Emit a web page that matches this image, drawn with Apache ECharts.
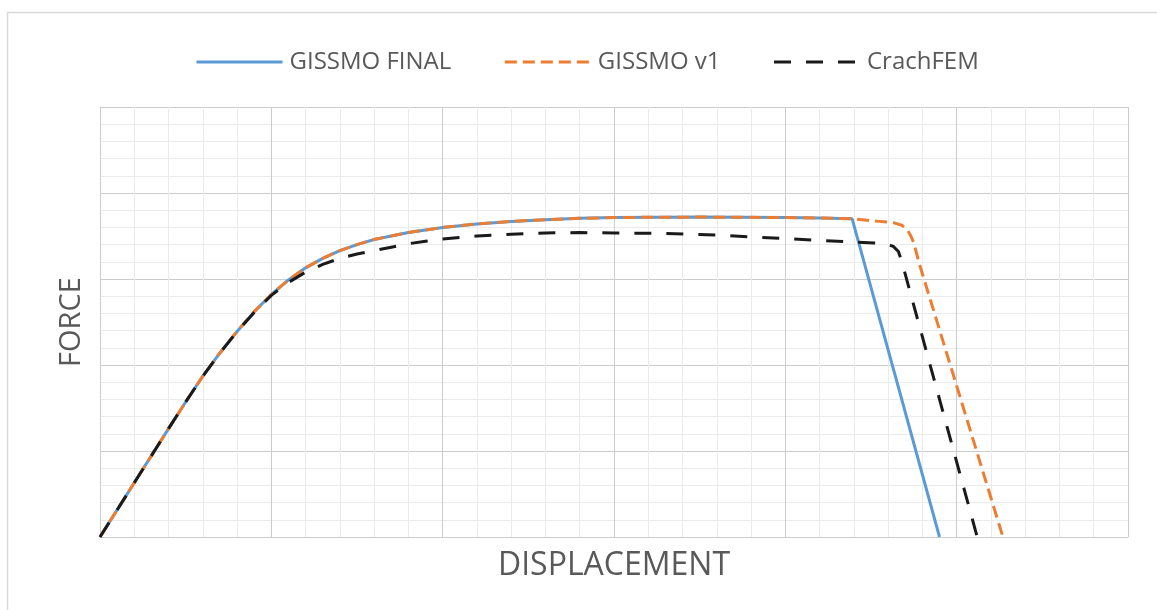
<!DOCTYPE html>
<html>
<head>
<meta charset="utf-8">
<title>Force vs displacement</title>
<script src="https://cdn.jsdelivr.net/npm/echarts@6/dist/echarts.min.js"></script>
<style>
  html, body { margin: 0; padding: 0; background: #ffffff; }
  #chart { width: 1157px; height: 610px; }
</style>
</head>
<body>
<div id="chart"></div>
<script>
// Series names shown in the legend
const seriesNames = ['GISSMO FINAL', 'GISSMO v1', 'CrachFEM'];

// Axis titles
const xAxisTitle = 'DISPLACEMENT';
const yAxisTitle = 'FORCE';

// Axis ranges (unlabelled, gridlines only)
const xRange = [0, 6];
const yRange = [0, 5];

// [displacement, force] pairs
const gissmoFinal = [
  [0, 0], [0.2, 0.63], [0.4, 1.26], [0.5, 1.57], [0.6, 1.87], [0.7, 2.14],
  [0.8, 2.39], [0.9, 2.62], [1.0, 2.82], [1.1, 2.99], [1.2, 3.13],
  [1.3, 3.24], [1.4, 3.33], [1.5, 3.40], [1.6, 3.46], [1.7, 3.50],
  [1.8, 3.54], [1.9, 3.57], [2.0, 3.60], [2.2, 3.64], [2.4, 3.67],
  [2.6, 3.69], [2.8, 3.705], [3.0, 3.715], [3.5, 3.72], [4.0, 3.715],
  [4.2, 3.71], [4.39, 3.70], [4.90, 0]
];

const gissmoV1 = [
  [0, 0], [0.2, 0.63], [0.4, 1.26], [0.5, 1.57], [0.6, 1.87], [0.7, 2.14],
  [0.8, 2.39], [0.9, 2.62], [1.0, 2.82], [1.1, 2.99], [1.2, 3.13],
  [1.3, 3.24], [1.4, 3.33], [1.5, 3.40], [1.6, 3.46], [1.7, 3.50],
  [1.8, 3.54], [1.9, 3.57], [2.0, 3.60], [2.2, 3.64], [2.4, 3.67],
  [2.6, 3.69], [2.8, 3.705], [3.0, 3.715], [3.5, 3.72], [4.0, 3.715],
  [4.2, 3.71], [4.39, 3.70], [4.55, 3.67], [4.63, 3.655], [4.68, 3.625],
  [4.71, 3.58], [4.73, 3.51], [4.75, 3.42], [4.78, 3.19], [5.27, 0]
];

const crachFEM = [
  [0, 0], [0.2, 0.63], [0.4, 1.26], [0.5, 1.57], [0.6, 1.87], [0.7, 2.14],
  [0.8, 2.39], [0.9, 2.61], [1.0, 2.81], [1.1, 2.96], [1.2, 3.08],
  [1.3, 3.17], [1.4, 3.24], [1.5, 3.29], [1.6, 3.33], [1.7, 3.37],
  [1.8, 3.41], [1.9, 3.44], [2.0, 3.465], [2.2, 3.50], [2.4, 3.52],
  [2.6, 3.535], [2.8, 3.54], [3.0, 3.535], [3.3, 3.53], [3.6, 3.51],
  [3.8, 3.49], [4.0, 3.47], [4.2, 3.45], [4.4, 3.43], [4.52, 3.42],
  [4.59, 3.405], [4.63, 3.38], [4.66, 3.32], [4.68, 3.2], [5.12, 0]
];

const textColor = '#595959';
const majorGrid = '#cccccc';
const minorGrid = '#ebebeb';
const fontFamily = '"Open Sans", "Liberation Sans", sans-serif';

function valueAxis(range, title, extra) {
  return Object.assign({
    type: 'value',
    min: range[0],
    max: range[1],
    interval: 1,
    name: title,
    nameLocation: 'middle',
    nameTextStyle: { color: textColor, fontSize: 29, fontFamily: fontFamily },
    axisLabel: { show: false },
    axisTick: { show: false },
    axisLine: { show: true, lineStyle: { color: majorGrid, width: 1 } },
    splitLine: { show: true, lineStyle: { color: majorGrid, width: 1 } },
    minorTick: { show: false, splitNumber: 5 },
    minorSplitLine: { show: true, lineStyle: { color: minorGrid, width: 1 } }
  }, extra);
}

const chart = echarts.init(document.getElementById('chart'), null, { renderer: 'canvas' });

chart.setOption({
  backgroundColor: '#ffffff',
  animation: false,
  graphic: [{
    type: 'rect',
    z: -10,
    silent: true,
    shape: { x: 7.5, y: 12.5, width: 1170, height: 620 },
    style: { fill: 'none', stroke: '#d9d9d9', lineWidth: 1.5 }
  }],
  grid: { left: 100, top: 107, right: 29, bottom: 73, containLabel: false },
  legend: {
    left: 190,
    top: 45,
    itemWidth: 86,
    itemHeight: 20,
    itemGap: 52,
    itemStyle: { opacity: 0, borderWidth: 0 },
    lineStyle: { width: 3 },
    textStyle: { color: textColor, fontSize: 24, fontFamily: fontFamily, padding: [0, 0, 0, 2] },
    data: seriesNames
  },
  xAxis: valueAxis(xRange, xAxisTitle, {
    nameGap: 13,
    nameTextStyle: { color: textColor, fontSize: 32, fontFamily: fontFamily }
  }),
  yAxis: valueAxis(yRange, yAxisTitle, { nameGap: 14 }),
  series: [
    {
      name: seriesNames[0],
      type: 'line',
      data: gissmoFinal,
      symbol: 'none',
      lineStyle: { color: '#5b9bd5', width: 3 },
      itemStyle: { color: '#5b9bd5' },
      z: 2
    },
    {
      name: seriesNames[1],
      type: 'line',
      data: gissmoV1,
      symbol: 'none',
      lineStyle: { color: '#ed7d31', width: 3, type: [12, 6] },
      itemStyle: { color: '#ed7d31' },
      z: 3
    },
    {
      name: seriesNames[2],
      type: 'line',
      data: crachFEM,
      symbol: 'none',
      lineStyle: { color: '#1a1a1a', width: 3, type: [17, 15] },
      itemStyle: { color: '#1a1a1a' },
      z: 4
    }
  ]
});
</script>
</body>
</html>
